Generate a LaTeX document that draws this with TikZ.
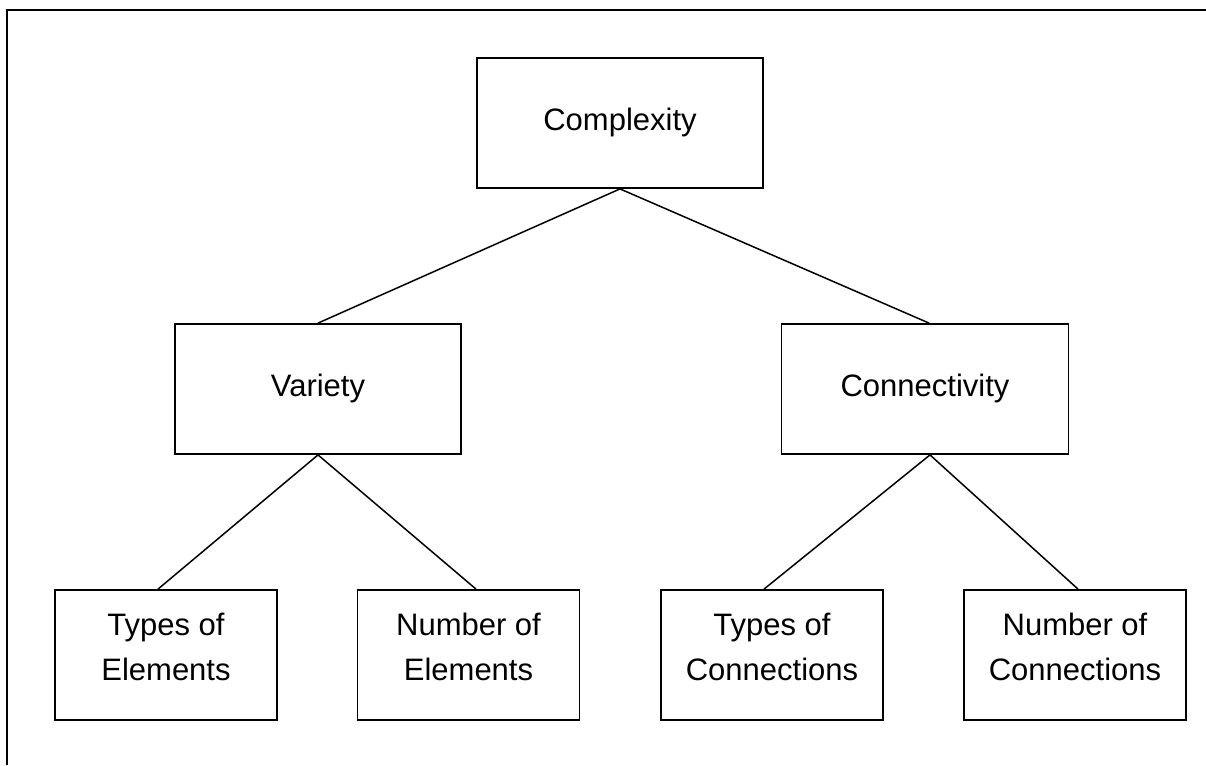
\documentclass[tikz,border=0pt]{standalone}
\usepackage{fontspec}
\setmainfont{Liberation Sans}
\begin{document}
\begin{tikzpicture}[x=1pt,y=-1pt,
  box/.style={draw=black, line width=1.8pt, rectangle, minimum height=130pt,
    inner sep=0pt, align=center, font=\fontsize{31}{45}\selectfont,
    text depth=8pt},
  bigbox/.style={box, minimum width=286pt},
  leafbox/.style={box, minimum width=222pt, text depth=16pt},
  link/.style={line width=1.5pt}]
  \useasboundingbox (0,0) rectangle (1206,765);
  % open frame: top and left rules only
  \coordinate (fl) at (7,765);
  \coordinate (fc) at (7,10);
  \coordinate (fr) at (1206,10);
  \draw[line width=2pt] (fl) -- (fc) -- (fr);

  % tree nodes
  \node[bigbox] (cx)  at (620,123)   {Complexity};
  \node[bigbox] (var) at (318,389)   {Variety};
  \node[bigbox, minimum width=287pt] (con) at (925,389) {Connectivity};
  \node[leafbox] (te) at (166,655)   {Types of\\Elements};
  \node[leafbox] (ne) at (468.5,655) {Number of\\Elements};
  \node[leafbox] (tc) at (772,655)   {Types of\\Connections};
  \node[leafbox] (nc) at (1075,655)  {Number of\\Connections};

  % connectors
  \draw[link] (cx.south) -- (var.north);
  \draw[link] (cx.south) -- ([xshift=4pt]con.north);
  \draw[link] (var.south) -- ([xshift=-8pt]te.north);
  \draw[link] (var.south) -- ([xshift=7.5pt]ne.north);
  \draw[link] ([xshift=5pt]con.south) -- ([xshift=-8pt]tc.north);
  \draw[link] ([xshift=5pt]con.south) -- ([xshift=3pt]nc.north);
\end{tikzpicture}
\end{document}
